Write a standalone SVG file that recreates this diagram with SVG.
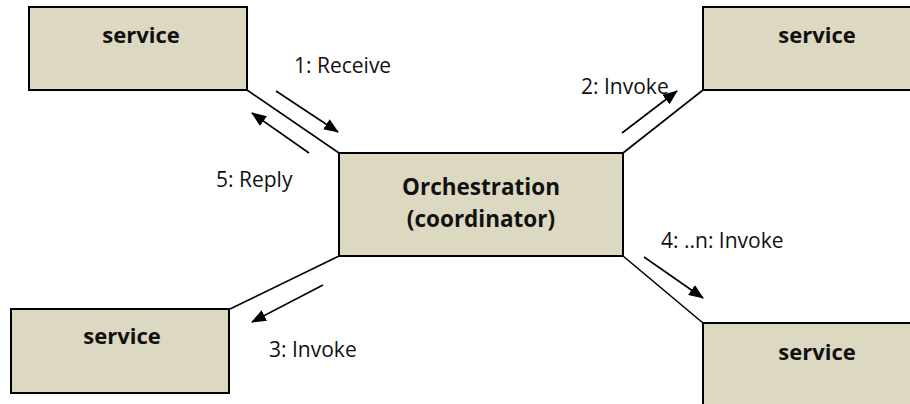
<svg xmlns="http://www.w3.org/2000/svg" width="910" height="404" viewBox="0 0 910 404">
  <style>
    .box { fill: #ddd8c2; stroke: #000; stroke-width: 2; }
    .title { font-family: "Open Sans", "Liberation Sans", sans-serif; font-weight: bold; font-size: 22px; fill: #111; text-anchor: middle; }
    .main { font-size: 22.5px; }
    .link { stroke: #000; stroke-width: 1.6; fill: none; }
    .msg { stroke: #000; stroke-width: 1.6; fill: none; marker-end: url(#head); }
    .lbl { font-family: "Open Sans", "Liberation Sans", sans-serif; font-size: 21px; fill: #111; }
  </style>
  <defs>
    <marker id="head" viewBox="0 0 15 12" refX="14" refY="6" markerWidth="15" markerHeight="12" markerUnits="userSpaceOnUse" orient="auto">
      <path d="M0,0 L15,6 L0,12 Z" fill="#000"/>
    </marker>
  </defs>
  <rect width="910" height="404" fill="#fff"/>

  <!-- connectors between coordinator and services -->
  <g id="connectors">
    <line class="link" x1="247" y1="90" x2="339" y2="153"/>
    <line class="link" x1="623" y1="153" x2="703" y2="90"/>
    <line class="link" x1="339" y1="256" x2="230" y2="309"/>
    <line class="link" x1="623" y1="256" x2="703" y2="323"/>

    <!-- message flow arrows -->
    <line class="msg" x1="276" y1="91" x2="338" y2="132"/>
    <line class="msg" x1="309" y1="153" x2="252" y2="113"/>
    <line class="msg" x1="622" y1="133" x2="677" y2="91"/>
    <line class="msg" x1="323" y1="285" x2="252" y2="322"/>
    <line class="msg" x1="644" y1="257" x2="703" y2="298"/>

    <text class="lbl" x="294" y="73">1: Receive</text>
    <text class="lbl" x="581" y="94">2: Invoke</text>
    <text class="lbl" x="216" y="187">5: Reply</text>
    <text class="lbl" x="661" y="248">4: ..n: Invoke</text>
    <text class="lbl" x="269" y="357">3: Invoke</text>
  </g>

  <g id="service-top-left">
    <rect class="box" x="29" y="7" width="218" height="83"/>
    <text class="title" x="141" y="43">service</text>
  </g>

  <g id="service-top-right">
    <rect class="box" x="703" y="7" width="220" height="83"/>
    <text class="title" x="817" y="43">service</text>
  </g>

  <g id="service-bottom-left">
    <rect class="box" x="11" y="309" width="218" height="84"/>
    <text class="title" x="122" y="344">service</text>
  </g>

  <g id="service-bottom-right">
    <rect class="box" x="703" y="323" width="220" height="90"/>
    <text class="title" x="817" y="360">service</text>
  </g>

  <g id="orchestration">
    <rect class="box" x="339" y="153" width="284" height="103"/>
    <text class="title main" x="481" y="195">Orchestration</text>
    <text class="title main" x="481" y="227">(coordinator)</text>
  </g>
</svg>
